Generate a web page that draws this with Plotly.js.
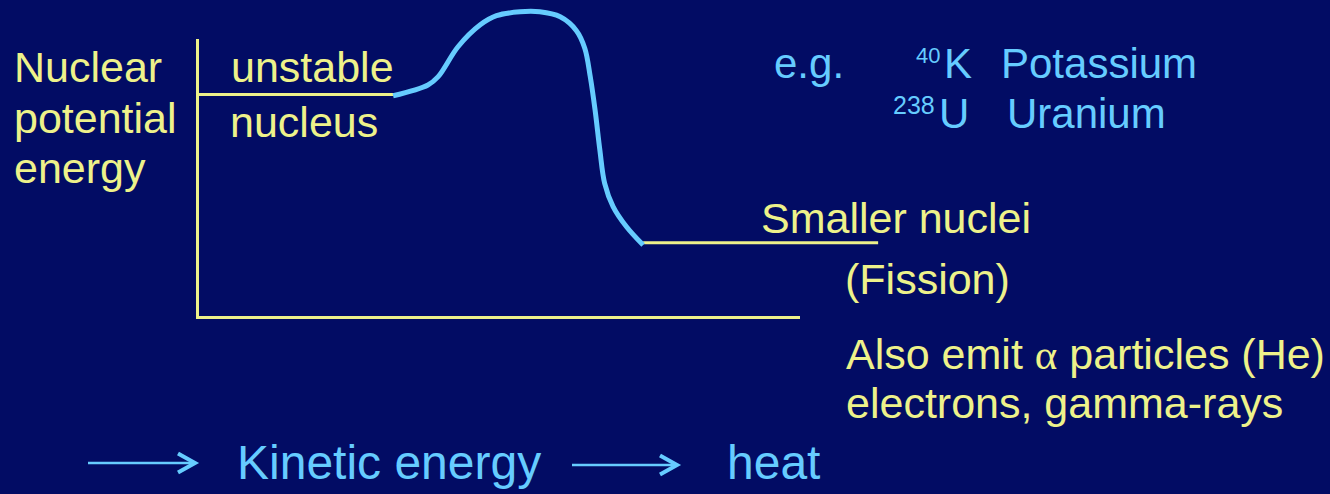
<!DOCTYPE html>
<html>
<head>
<meta charset="utf-8">
<script src="https://cdn.plot.ly/plotly-3.0.1.min.js"></script>
<style>
  html, body { margin: 0; padding: 0; background: #020c64; }
  #chart { width: 1330px; height: 494px; }
</style>
</head>
<body>
<div id="chart"></div>
<script>
// ---- Data (reaction coordinate vs nuclear potential energy, arbitrary units) ----
const barrierX = [32.3, 38.1, 39.8, 43.1, 46.8, 49.5, 53.4, 56.7, 60.1, 62.8, 64.2, 65.1, 65.9, 66.7, 67.5, 68.9, 71.1, 73.9];
const barrierY = [79.5, 83.4, 86.4, 97.2, 105.1, 108.4, 109.8, 109.8, 108.0, 103.0, 96.6, 86.4, 74.4, 59.9, 47.9, 39.5, 32.3, 25.6];
const unstableLevelX = [-0.5, 32.3];
const unstableLevelY = [80, 80];
const productLevelX = [73.9, 113];
const productLevelY = [26.4, 26.4];

// ---- Text labels ----
const axisLabelLines = ["Nuclear", "potential", "energy"];
const initialStateLines = ["unstable", "nucleus"];
const finalStateLines = ["Smaller nuclei", "(Fission)"];
const exampleLead = "e.g.";
const exampleMass = ["40", "238"];
const exampleSymbol = ["K", "U"];
const exampleName = ["Potassium", "Uranium"];
const emissionLines = ["Also emit <span style=\"font-family:'Liberation Serif'\">α</span> particles (He)", "electrons, gamma-rays"];
const chainLabels = ["Kinetic energy", "heat"];

// ---- Styling ----
const BG = "#020c64";
const YEL = "#eef28a";
const BLUE = "#66ccff";
const FONT = "'Liberation Sans', Arial, Helvetica, sans-serif";

const W = 1330, H = 494;
// energy-diagram frame in pixels
const FL = 199, FR = 800, FT = 39, FB = 316;
// data units -> pixels scale (frame spans 0..100 in both directions)
const sx = (FR - FL) / 100, sy = (FB - FT) / 100;

const px = x => x / W;
const py = y => 1 - y / H;

function label(text, left, baseline, size, color) {
  const top = baseline - 0.905 * size - 1;
  return {
    text: text, xref: "paper", yref: "paper",
    x: px(left - 1), y: py(top), xanchor: "left", yanchor: "top",
    showarrow: false, align: "left", borderpad: 0,
    font: {family: FONT, size: size, color: color}
  };
}

const F = 43;
const annotations = [
  label(axisLabelLines[0], 14, 82, F, YEL),
  label(axisLabelLines[1], 14, 133, F, YEL),
  label(axisLabelLines[2], 14, 183, F, YEL),
  label(initialStateLines[0], 231, 82, F, YEL),
  label(initialStateLines[1], 230, 137, F, YEL),
  label(finalStateLines[0], 761, 233, F, YEL),
  label(finalStateLines[1], 845, 294, F, YEL),
  label(exampleLead, 774, 78, 42, BLUE),
  label(exampleMass[0], 916, 63, 22, BLUE),
  label(exampleSymbol[0], 944, 78, 42, BLUE),
  label(exampleName[0], 1001, 78, 42, BLUE),
  label(exampleMass[1], 893, 114, 25, BLUE),
  label(exampleSymbol[1], 939, 128, 42, BLUE),
  label(exampleName[1], 1007, 128, 42, BLUE),
  label(emissionLines[0], 846, 369, F, YEL),
  label(emissionLines[1], 846, 418, F, YEL),
  label(chainLabels[0], 237, 479, 48, BLUE),
  label(chainLabels[1], 727, 479, 48, BLUE)
];

function arrowShapes(x0, x1, y) {
  return [
    {type: "line", xref: "paper", yref: "paper", x0: px(x0), x1: px(x1 - 2), y0: py(y), y1: py(y),
     line: {color: BLUE, width: 2.5}},
    {type: "path", xref: "paper", yref: "paper",
     path: "M " + px(x1 - 17) + " " + py(y - 9.5) + " L " + px(x1) + " " + py(y) + " L " + px(x1 - 17) + " " + py(y + 9.5),
     line: {color: BLUE, width: 4}}
  ];
}

const shapes = [].concat(arrowShapes(88, 195, 463), arrowShapes(572, 677, 465));

const traces = [
  {x: unstableLevelX, y: unstableLevelY, mode: "lines", type: "scatter",
   line: {color: YEL, width: 3}, hoverinfo: "skip"},
  {x: productLevelX, y: productLevelY, mode: "lines", type: "scatter",
   line: {color: YEL, width: 3}, hoverinfo: "skip"},
  {x: barrierX, y: barrierY, mode: "lines", type: "scatter",
   line: {color: BLUE, width: 5, shape: "spline", smoothing: 1}, hoverinfo: "skip"},
  // empty trace that carries the framed energy axes
  {x: [null], y: [null], xaxis: "x2", yaxis: "y2", mode: "lines", type: "scatter", hoverinfo: "skip"}
];

const hidden = {showline: false, showgrid: false, zeroline: false, showticklabels: false, ticks: "", fixedrange: true};
const framed = {showline: true, linecolor: YEL, linewidth: 3, showgrid: false, zeroline: false,
                showticklabels: false, ticks: "", fixedrange: true};

const layout = {
  width: W, height: H,
  margin: {l: 0, r: 0, t: 0, b: 0, pad: 0},
  paper_bgcolor: BG, plot_bgcolor: "rgba(0,0,0,0)",
  showlegend: false,
  // full-canvas data axes, same scale as the frame
  xaxis: Object.assign({domain: [0, 1], range: [-FL / sx, (W - FL) / sx]}, hidden),
  yaxis: Object.assign({domain: [0, 1], range: [-(H - FB) / sy, FB / sy]}, hidden),
  // frame axes (the drawn L-shaped axes)
  xaxis2: Object.assign({domain: [FL / W, FR / W], range: [0, 100], anchor: "y2"}, framed),
  yaxis2: Object.assign({domain: [(H - FB) / H, (H - FT) / H], range: [0, 100], anchor: "x2"}, framed),
  annotations: annotations,
  shapes: shapes,
  font: {family: FONT}
};

Plotly.newPlot("chart", traces, layout, {displayModeBar: false, staticPlot: true});
</script>
</body>
</html>
